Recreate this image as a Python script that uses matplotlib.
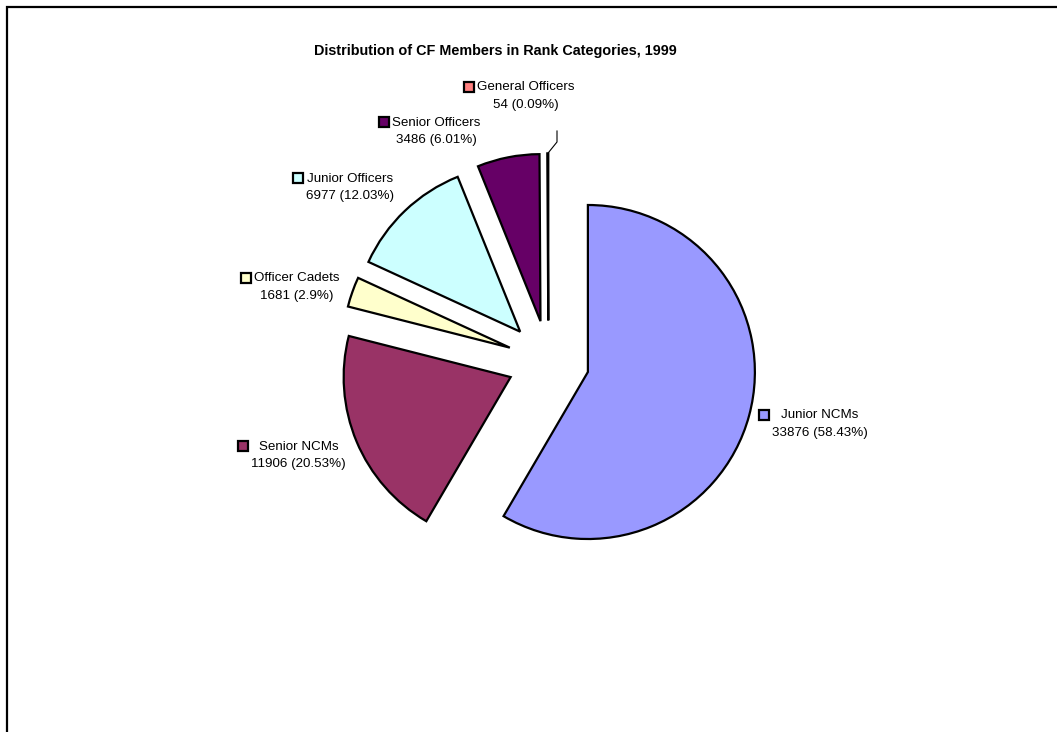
import matplotlib
matplotlib.use('Agg')
import numpy as np
import matplotlib.pyplot as plt
from matplotlib.patches import Rectangle

plt.rcParams['font.family'] = ['Liberation Sans', 'DejaVu Sans']

# data
categories = ['Junior NCMs', 'Senior NCMs', 'Officer Cadets',
              'Junior Officers', 'Senior Officers', 'General Officers']
members = [33876, 11906, 1681, 6977, 3486, 54]
percents = [58.43, 20.53, 2.9, 12.03, 6.01, 0.09]
colors = ['#9999FF', '#993366', '#FFFFCC', '#CCFFFF', '#660066', '#FF8080']

# label block placement in reference pixels (left edge, centre y)
label_px = [(772, 424), (251, 455.5), (254, 287), (306, 187.5),
            (392, 131.5), (477, 96)]

W, H = 1057, 732
CX, CY, R = 548.4, 361.3, 167.0   # pie centre / radius in pixels


def to_data(px, py):
    return (px - CX) / R, (CY - py) / R


fig = plt.figure(figsize=(W / 100, H / 100), dpi=100)
ax = fig.add_axes([0, 0, 1, 1])

wedges, _ = ax.pie(members, colors=colors, startangle=90, counterclock=False,
                   explode=[0.245] * len(members),
                   wedgeprops=dict(edgecolor='black', linewidth=1.6))

ax.set_xlim(-CX / R, (W - CX) / R)
ax.set_ylim((CY - H) / R, CY / R)
ax.set_aspect('equal')
ax.axis('off')

for i, (name, n, p) in enumerate(zip(categories, members, percents)):
    x, y = to_data(*label_px[i])
    ax.text(x, y, '%s\n%d (%s%%)' % (name, n, ('%g' % p)),
            ha='left', va='center', multialignment='center',
            fontsize=9.6, linespacing=1.65)
    kx, ky = to_data(label_px[i][0] - 8, label_px[i][1] - 9.5)
    ax.plot([kx], [ky], marker='s', markersize=6.5, markerfacecolor=colors[i],
            markeredgecolor='black', markeredgewidth=1.6, linestyle='none')

# leader line for the tiny General Officers slice
go = wedges[-1]
th = np.deg2rad((go.theta1 + go.theta2) / 2)
cx, cy = go.center
tip = (cx + go.r * np.cos(th), cy + go.r * np.sin(th))
p1 = to_data(557, 142)
p2 = to_data(557, 131)
ax.plot([tip[0], p1[0], p2[0]], [tip[1], p1[1], p2[1]], color='black', lw=0.8)

fig.text(495 / W, 1 - 51 / H, 'Distribution of CF Members in Rank Categories, 1999',
         ha='center', va='center', fontsize=10.4, fontweight='bold')

# chart frame (runs off the right and bottom edges)
fig.patches.append(Rectangle((7 / W, -0.1), 1.2, 1 - 7 / H + 0.1,
                             transform=fig.transFigure, fill=False,
                             edgecolor='black', linewidth=1.6))

fig.savefig('out.png', dpi=100)
